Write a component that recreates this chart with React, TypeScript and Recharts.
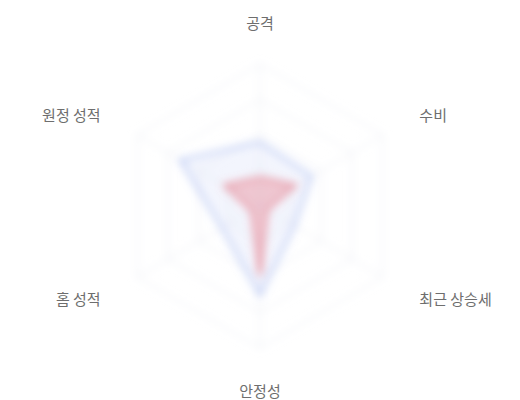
import React from "react";
import {
  PolarAngleAxis,
  PolarGrid,
  PolarRadiusAxis,
  Radar,
  RadarChart,
} from "recharts";

const subjects = ["공격", "수비", "최근 상승세", "안정성", "홈 성적", "원정 성적"];
const teamA = [45, 42, 28, 63, 31, 65];
const teamB = [20, 29, 6, 49, 7, 29];

const data = subjects.map((subject, i) => ({
  subject,
  a: teamA[i],
  b: teamB[i],
}));

const css = `
body { margin: 0; }
.recharts-polar-grid, .recharts-radar { filter: url(#soft); }
`;

function AngleTick(props: any) {
  const { x, y, textAnchor, payload } = props;
  return (
    <text
      x={x}
      y={y}
      textAnchor={textAnchor}
      dominantBaseline="central"
      fill="#6e6e6e"
      fontSize={15}
      fontFamily="'Noto Sans CJK KR', sans-serif"
    >
      {payload.value}
    </text>
  );
}

export default function App() {
  return (
    <div style={{ width: 520, height: 400, background: "#fff" }}>
      <style>{css}</style>
      <svg width={0} height={0} style={{ position: "absolute" }}>
        <defs>
          <filter id="soft" x="-30%" y="-30%" width="160%" height="160%">
            <feGaussianBlur stdDeviation="4" />
          </filter>
        </defs>
      </svg>
      <RadarChart width={520} height={400} data={data} cx={260} cy={206} outerRadius={142}>
        <PolarGrid stroke="#e6e8f0" />
        <PolarAngleAxis
          dataKey="subject"
          tickSize={42}
          tickLine={false}
          axisLine={false}
          tick={<AngleTick />}
        />
        <PolarRadiusAxis domain={[0, 100]} tick={false} axisLine={false} />
        <Radar
          dataKey="a"
          stroke="#9fb3ee"
          strokeWidth={2}
          fill="#9fb3ee"
          fillOpacity={0.13}
          isAnimationActive={false}
        />
        <Radar
          dataKey="b"
          stroke="#e77a88"
          strokeWidth={2}
          fill="#e77a88"
          fillOpacity={0.38}
          isAnimationActive={false}
        />
      </RadarChart>
    </div>
  );
}
